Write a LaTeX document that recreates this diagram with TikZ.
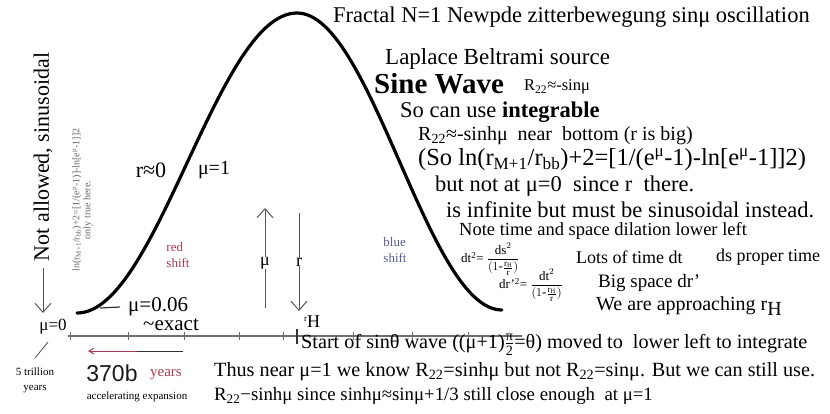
\documentclass[tikz,border=0pt]{standalone}
\usepackage{fontspec}
\usepackage{amsmath}
\setmainfont{Liberation Serif}
\newfontfamily\arialfont{Liberation Sans}
\usetikzlibrary{arrows.meta}

\definecolor{redtxt}{RGB}{165,60,80}
\definecolor{bluetxt}{RGB}{90,90,150}
\definecolor{axisgray}{RGB}{110,110,110}

\newcommand{\fs}[1]{\fontsize{#1}{#1}\selectfont}

\tikzset{
  txt/.style={anchor=west, inner sep=0pt, font=\fs{21}},
  lbl/.style={inner sep=0pt, font=\fs{#1}},
  lbl/.default=20,
  wave/.style={line width=3.2pt, black, line cap=round},
  axisline/.style={axisgray, line width=1.3pt},
  pointer/.style={gray!70!black, line width=1pt},
  barb/.style={-{Straight Barb[length=9pt, width=16pt, line width=1pt]}}
}

\begin{document}
\begin{tikzpicture}[x=1pt, y=-1pt]
  \useasboundingbox (0,0) rectangle (830,414);

  % the sine wave
  \draw[wave] plot[domain=0:1, samples=60] ({77+220*\x},{313-150*(1-cos(180*\x))})
    -- plot[domain=0:1, samples=60] ({297+205*\x},{13+148.5*(1-cos(180*\x))});

  % axis with ticks
  \coordinate (axL) at (68,336);
  \coordinate (axR) at (522,336);
  \draw[axisline] (axL) -- (axR);
  \foreach \x in {70,128,184,239,283,353,412,468}
    \draw[axisline, line width=1pt] (\x,332) -- (\x,340);
  \draw[black!80, line width=2pt] (297,329) -- (297,344);

  % arrow back in time
  \coordinate (backA) at (183,351);
  \coordinate (backB) at (137,351);
  \coordinate (backC) at (88,351);
  \draw[gray!40!black, line width=1pt] (backA) -- (backB);
  \draw[redtxt, line width=1pt, -{Straight Barb[length=5pt, width=6pt]}] (backB) -- (backC);

  % text on the right
  \node[txt, font=\fs{22.5}] (fractal) at (333,17) {Fractal N=1 Newpde zitterbewegung sinμ oscillation};
  \node[txt, font=\fs{23}] (laplace) at (385,59) {Laplace Beltrami source};
  \node[txt, font=\fs{29}\bfseries] (sinewave) at (374,84) {Sine Wave};
  \node[txt, font=\fs{16.5}] (rsin) at (524,87) {R\textsubscript{22}≈-sinμ};
  \node[txt, font=\fs{22.5}] (integr) at (400,112) {So can use \textbf{integrable}};
  \node[txt, font=\fs{20}] (nearbot) at (418,136) {R\textsubscript{22}≈-sinhμ \ near \ bottom (r is big)};
  \node[txt, font=\fs{24.5}] (soln) at (418,160) {(So ln(r\textsubscript{M+1}/r\textsubscript{bb})+2=[1/(e\textsuperscript{μ}-1)-ln[e\textsuperscript{μ}-1]]2)};
  \node[txt, font=\fs{22.5}] (butnot) at (435,186) {but not at μ=0 \ since r \ there.};
  \node[txt, font=\fs{22.5}] (infinite) at (446,210) {is infinite but must be sinusoidal instead.};
  \node[txt, font=\fs{18.5}] (notetime) at (459,231) {Note time and space dilation lower left};
  \node[txt, font=\fs{13}] (dtsq) at (461,259) {dt\textsuperscript{2}= $\dfrac{\text{ds}^{2}}{(1\text{-}\frac{\text{r}_{\text{H}}}{\text{r}})}$};
  \node[txt, font=\fs{18}] (lots) at (576,257) {Lots of time dt};
  \node[txt, font=\fs{18}] (proper) at (716,257) {ds proper time};
  \node[txt, font=\fs{13}] (drsq) at (499,285) {dr'\textsuperscript{2}= $\dfrac{\text{dt}^{2}}{(1\text{-}\frac{\text{r}_{\text{H}}}{\text{r}})}$};
  \node[txt, font=\fs{19}] (bigspace) at (598,283) {Big space dr'};
  \node[txt, font=\fs{20}] (approach) at (596,306) {We are approaching r\raisebox{-5pt}{H}};
  \node[txt, font=\fs{20.2}] (start) at (301,345) {Start of sinθ wave ((μ+1)$\frac{\text{π}}{\text{2}}$=θ) moved to \ lower left to integrate};
  \node[txt, font=\fs{20.2}] (thus) at (214,372) {Thus near μ=1 we know R\textsubscript{22}=sinhμ but not R\textsubscript{22}=sinμ. But we can still use.};
  \node[txt, font=\fs{18.8}] (since) at (214,396) {R\textsubscript{22}−sinhμ since sinhμ≈sinμ+1/3 still close enough \ at μ=1};

  % text on the left
  \node[lbl=22, rotate=90] (notallow) at (43,157) {Not allowed, sinusoidal};
  \node[lbl=10, rotate=90, gray!80!black] (lnrot) at (77,200) {ln(r\textsubscript{M+1}/r\textsubscript{bb})+2=[1/(e\textsuperscript{μ}-1)]-ln[e\textsuperscript{μ}-1]]2};
  \node[lbl=10, rotate=90, gray!80!black] (onlytrue) at (88,210) {only true here.};
  \node[lbl=22] (rzero) at (151,170) {r≈0};
  \node[lbl=20] (muone) at (214,170) {μ=1};
  \node[lbl=13, redtxt, align=left] (redshift) at (178,255) {red\\[3pt]shift};
  \node[lbl=13, bluetxt, align=left] (blueshift) at (395,250) {blue\\[3pt]shift};
  \node[lbl=18] (mulab) at (265,263) {μ};
  \node[lbl=18] (rlab) at (299,262) {r};
  \node[lbl=18] (rH) at (312,322) {{\fs{9}r}\raisebox{-6pt}{H}};
  \node[lbl=17] (muzero) at (53,327) {μ=0};
  \node[lbl=21, anchor=west] (mu006) at (128,307) {μ=0.06};
  \node[lbl=21, anchor=west] (exact) at (143,325) {\textasciitilde exact};
  \node[lbl=11, align=center] (trill) at (35,380) {5 trillion\\[4pt]years};
  \node[lbl=23, gray!20!black, font=\arialfont\fs{23}] (b370) at (112,373) {370b};
  \node[lbl=15, redtxt] (yearsred) at (166,375) {years};
  \node[lbl=11] (accel) at (137,397) {accelerating expansion};

  % pointers
  \coordinate (natail) at (43,268);
  \coordinate (natip) at (43,313);
  \draw[pointer, barb] (natail) -- (natip);
  \coordinate (mubot) at (265,308);
  \coordinate (mutop) at (265,208);
  \draw[pointer] (mubot) -- (mulab);
  \draw[pointer, barb] (mulab) -- (mutop);
  \coordinate (rtop) at (299,213);
  \coordinate (rtip) at (299,311);
  \draw[pointer] (rtop) -- (rlab);
  \draw[pointer, barb] (rlab) -- (rtip);
  \coordinate (dashL) at (100,308);
  \draw[black!80, line width=1.2pt] (dashL) -- ([xshift=-8pt]mu006.west);
  \coordinate (slashA) at (48,342);
  \coordinate (slashB) at (35,358);
  \draw[gray!60!black, line width=0.8pt] (slashA) -- (slashB);
\end{tikzpicture}
\end{document}
